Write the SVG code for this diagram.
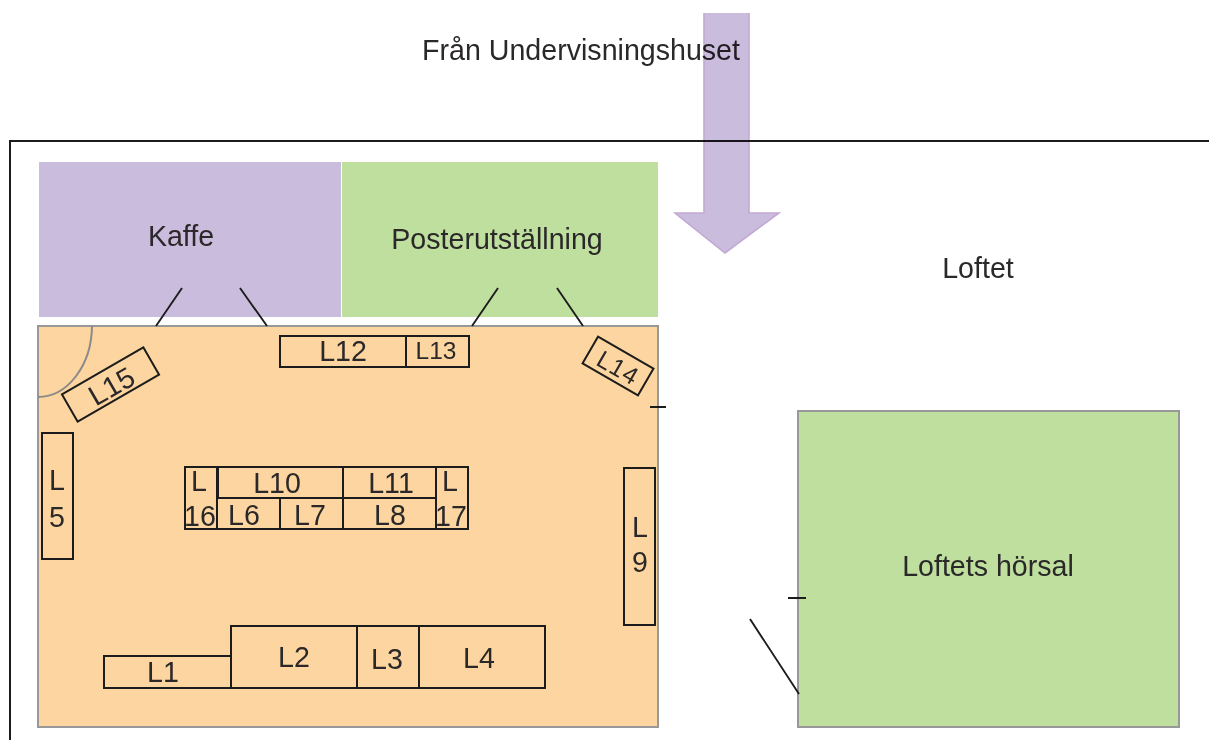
<svg xmlns="http://www.w3.org/2000/svg" width="1209" height="740" viewBox="0 0 1209 740">
<style>
text{font-family:"Liberation Sans",Arial,sans-serif;fill:#2b2829;text-anchor:middle}
.t{font-size:28.6px}
.s{font-size:24.5px}
.b{fill:none;stroke:#1c1c1c;stroke-width:2}
.l{fill:none;stroke:#1c1c1c;stroke-width:1.9}
.a{stroke:#989898;stroke-width:2}
</style>
<defs><clipPath id="top"><rect x="660" y="13" width="130" height="250"/></clipPath></defs>
<rect width="1209" height="740" fill="#fff"/>
<path class="b" d="M1209 141H10V740"/>
<rect id="orange" x="38" y="326" width="620" height="401" fill="#fdd5a0" class="a"/>
<g id="kaffe"><rect x="39" y="162" width="302" height="155" fill="#cabcdc"/><text class="t" x="181" y="246">Kaffe</text></g>
<g id="poster"><rect x="342" y="162" width="316" height="155" fill="#bfdf9f"/><text class="t" x="497" y="249">Posterutställning</text></g>
<g id="horsal"><rect x="798" y="411" width="381" height="316" fill="#bfdf9f" class="a"/><text class="t" x="988" y="576">Loftets hörsal</text></g>
<text class="t" x="581" y="60">Från Undervisningshuset</text>
<text class="t" x="978" y="278">Loftet</text>
<g id="arrow" clip-path="url(#top)" style="mix-blend-mode:multiply"><path d="M704 5H749V213H779L725 253L675 213H704Z" fill="#cabcdc" stroke="#c2a9d3" stroke-width="1.6"/></g>
<g id="connectors">
<path class="l" d="M182 288L156 326M240 288L267 326M498 288L472 326M557 288L583 326M650 407H666M788 598H806M750 619L799 694"/>
<path d="M92 326A54 72 0 0 1 38 397" fill="none" stroke="#8a8a8a" stroke-width="2"/>
</g>
<g id="L1"><rect class="b" x="104" y="656" width="127" height="32"/><text class="t" x="163" y="682">L1</text></g>
<g id="L2"><rect class="b" x="231" y="626" width="126" height="62"/><text class="t" x="294" y="667">L2</text></g>
<g id="L3"><rect class="b" x="357" y="626" width="62" height="62"/><text class="t" x="387" y="669">L3</text></g>
<g id="L4"><rect class="b" x="419" y="626" width="126" height="62"/><text class="t" x="479" y="668">L4</text></g>
<g id="L5"><rect class="b" x="42" y="433" width="31" height="126"/><text class="t" x="57" y="490">L</text><text class="t" x="57" y="527">5</text></g>
<g id="L6"><rect class="b" x="217" y="498" width="63" height="31"/><text class="t" x="244" y="525">L6</text></g>
<g id="L7"><rect class="b" x="280" y="498" width="63" height="31"/><text class="t" x="310" y="525">L7</text></g>
<g id="L8"><rect class="b" x="343" y="498" width="93" height="31"/><text class="t" x="390" y="525">L8</text></g>
<g id="L9"><rect class="b" x="624" y="468" width="31" height="157"/><text class="t" x="640" y="537">L</text><text class="t" x="640" y="572">9</text></g>
<g id="L10"><rect class="b" x="218" y="467" width="125" height="31"/><text class="t" x="277" y="493">L10</text></g>
<g id="L11"><rect class="b" x="343" y="467" width="93" height="31"/><text class="t" x="391" y="493">L11</text></g>
<g id="L12"><rect class="b" x="280" y="336" width="126" height="31"/><text class="t" x="343" y="361">L12</text></g>
<g id="L13"><rect class="b" x="406" y="336" width="63" height="31"/><text class="s" x="436" y="359">L13</text></g>
<g id="L14" transform="translate(618 366) rotate(30)"><rect class="b" x="-32" y="-15.500" width="64" height="31"/><text class="s" x="1" y="10" letter-spacing="1">L14</text></g>
<g id="L15" transform="translate(110.500 384.500) rotate(-30)"><rect class="b" x="-47" y="-15.700" width="94" height="31.400"/><text class="t" x="0" y="12">L15</text></g>
<g id="L16"><rect class="b" x="185" y="467" width="32" height="62"/><text class="t" x="199" y="491">L</text><text class="t" x="200" y="526">16</text></g>
<g id="L17"><rect class="b" x="436" y="467" width="32" height="62"/><text class="t" x="450" y="491">L</text><text class="t" x="451" y="526">17</text></g>
</svg>
